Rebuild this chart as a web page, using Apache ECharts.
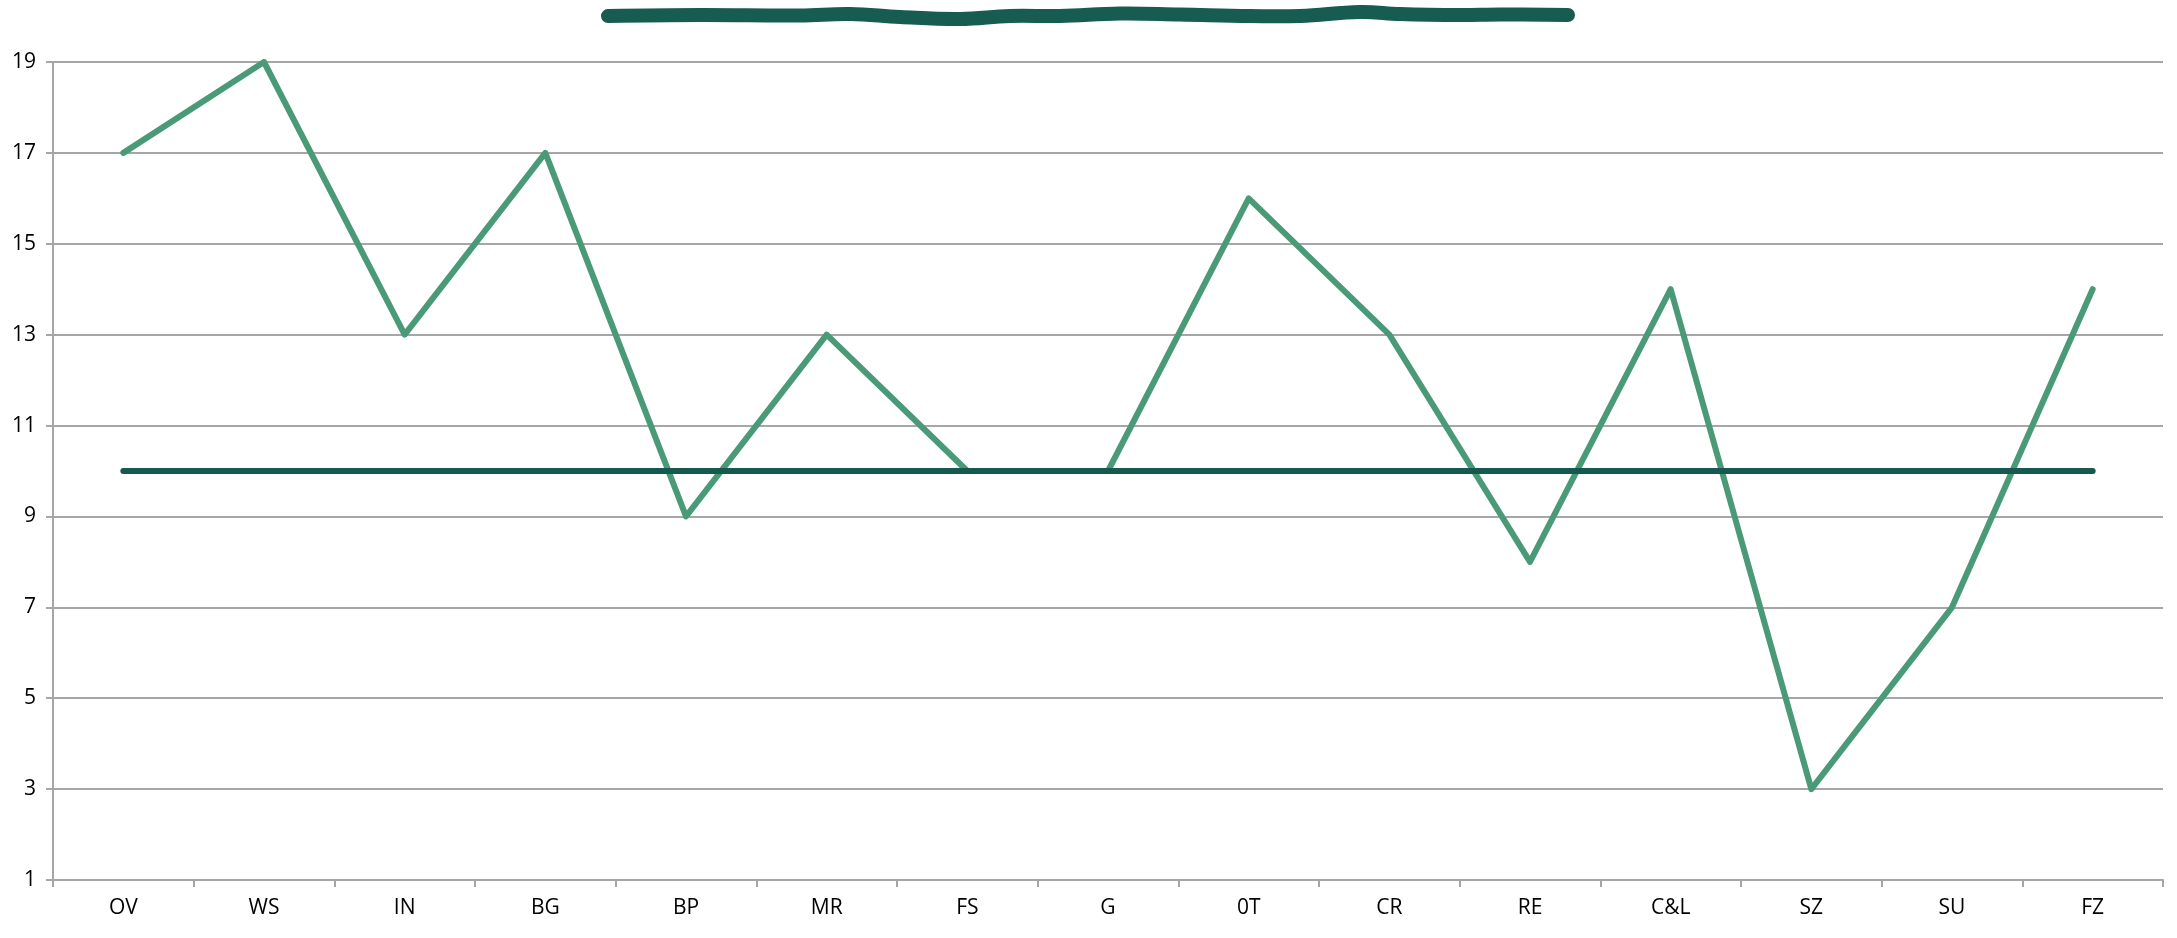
<!DOCTYPE html>
<html>
<head>
<meta charset="utf-8">
<script src="https://cdn.jsdelivr.net/npm/echarts@6/dist/echarts.min.js"></script>
<style>
  html, body { margin: 0; padding: 0; background: #fff; }
  #chart { width: 2177px; height: 938px; }
</style>
</head>
<body>
<div id="chart"></div>
<script>
var categories = ['OV', 'WS', 'IN', 'BG', 'BP', 'MR', 'FS', 'G', '0T', 'CR', 'RE', 'C&L', 'SZ', 'SU', 'FZ'];
var scores = [17, 19, 13, 17, 9, 13, 10, 10, 16, 13, 8, 14, 3, 7, 14];
var average = [10, 10, 10, 10, 10, 10, 10, 10, 10, 10, 10, 10, 10, 10, 10];

var chart = echarts.init(document.getElementById('chart'));

var option = {
    animation: false,
    backgroundColor: '#fff',
    grid: {
        left: 53,
        right: 14,
        top: 62,
        bottom: 58
    },
    // scribbled-over title
    graphic: [{
        type: 'polyline',
        shape: {
            points: [[608, 16], [700, 15], [800, 15.5], [850, 14], [900, 17], [960, 19], [1010, 16], [1060, 16], [1120, 13.5], [1180, 14.5], [1250, 16], [1300, 16], [1360, 12], [1400, 14], [1460, 15], [1500, 14.5], [1568, 15]],
            smooth: 0.4
        },
        style: { stroke: '#175c50', lineWidth: 14, lineCap: 'round', fill: null }
    }],
    xAxis: {
        type: 'category',
        data: categories,
        boundaryGap: true,
        axisLine: { lineStyle: { color: '#a6a6a6', width: 2 } },
        axisTick: { show: true, length: 7, lineStyle: { color: '#a6a6a6', width: 2 } },
        axisLabel: {
            color: '#000',
            fontFamily: 'Open Sans',
            fontSize: 21,
            margin: 18
        },
        splitLine: { show: false }
    },
    yAxis: {
        type: 'value',
        min: 1,
        max: 19,
        interval: 2,
        axisLine: { show: true, lineStyle: { color: '#a6a6a6', width: 2 } },
        axisTick: { show: true, length: 7, lineStyle: { color: '#a6a6a6', width: 2 } },
        axisLabel: {
            color: '#000',
            fontFamily: 'Open Sans',
            fontSize: 21,
            margin: 17
        },
        splitLine: { lineStyle: { color: '#a6a6a6', width: 2 } }
    },
    series: [
        {
            name: 'Score',
            type: 'line',
            data: scores,
            symbol: 'none',
            lineStyle: { color: '#4a9a78', width: 6, cap: 'round', join: 'round' },
            z: 2
        },
        {
            name: 'Average',
            type: 'line',
            data: average,
            symbol: 'none',
            lineStyle: { color: '#165a4f', width: 6, cap: 'round' },
            z: 3
        }
    ]
};

chart.setOption(option);
</script>
</body>
</html>
